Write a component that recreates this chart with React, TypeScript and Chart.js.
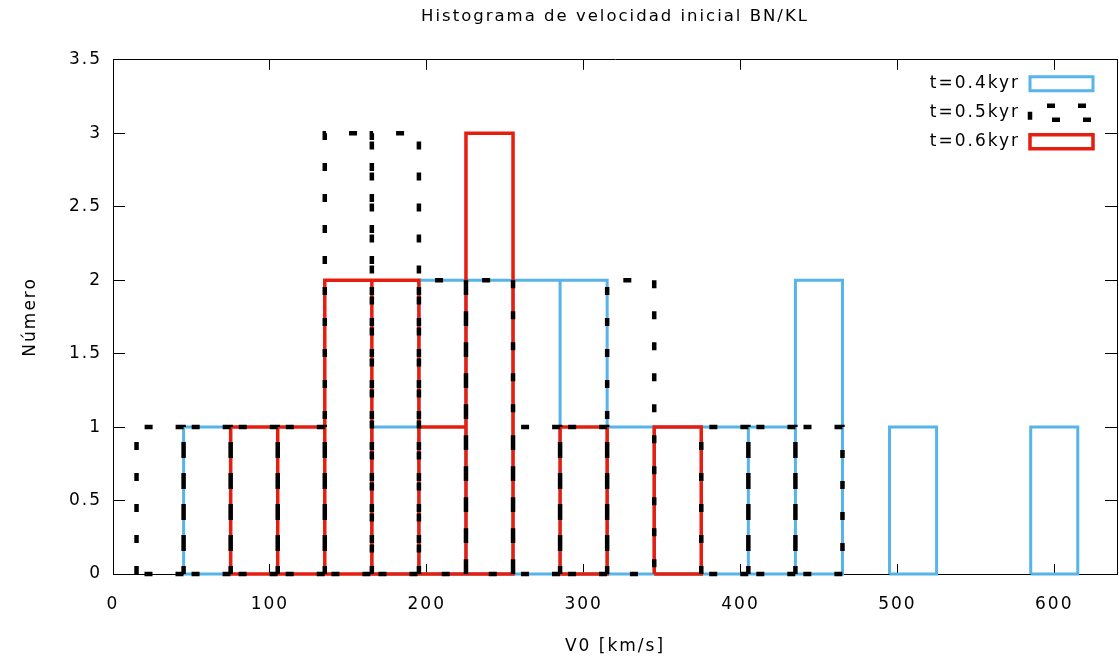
import { useEffect, useRef } from "react";
import { Chart, registerables } from "chart.js";

Chart.register(...registerables);

// Histogram bins (km/s): centres and common width
const binCenters = [30, 60, 90, 120, 150, 180, 210, 240, 270, 300, 330, 360, 390, 420, 450, 480, 510, 540, 570, 600];
const binWidth = 30;

// Counts per bin for each epoch
const countsT04 = [0, 1, 0, 0, 0, 1, 2, 2, 2, 2, 1, 1, 1, 1, 2, 0, 1, 0, 0, 1];
const countsT05 = [1, 1, 1, 1, 3, 3, 2, 2, 1, 1, 2, 0, 1, 1, 1, 0, 0, 0, 0, 0];
const countsT06 = [0, 0, 1, 1, 2, 2, 1, 3, 0, 1, 0, 1, 0, 0, 0, 0, 0, 0, 0, 0];

const seriesLabels = ["t=0.4kyr", "t=0.5kyr", "t=0.6kyr"];
const chartTitle = "Histograma de velocidad inicial BN/KL";
const xAxisTitle = "V0 [km/s]";
const yAxisTitle = "Número";

const xRange = [0, 640];
const yRange = [0, 3.5];
const xStep = 100;
const yStep = 0.5;

const FONT = '"DejaVu Sans", sans-serif';
const LETTER_SPACING = "2px";

// Each non-empty bin becomes a closed rectangle outline; a null point
// separates consecutive boxes so every box is its own sub-path.
function boxOutlines(centers: number[], counts: number[], width: number) {
  const pts: { x: number; y: number | null }[] = [];
  centers.forEach((c, i) => {
    const n = counts[i];
    if (!n) return;
    const x0 = c - width / 2;
    const x1 = c + width / 2;
    pts.push(
      { x: x0, y: 0 },
      { x: x0, y: n },
      { x: x1, y: n },
      { x: x1, y: 0 },
      { x: x0, y: 0 },
      { x: x0, y: null }
    );
  });
  return pts;
}

const textSpacing = {
  id: "textSpacing",
  beforeLayout(chart: any) {
    chart.ctx.letterSpacing = LETTER_SPACING;
  },
  beforeDraw(chart: any) {
    chart.ctx.letterSpacing = LETTER_SPACING;
  },
};

// Key drawn inside the plot, top-right: label then a sample box.
const boxLegend = {
  id: "boxLegend",
  afterDraw(chart: any) {
    const { ctx, chartArea } = chart;
    const sets = chart.data.datasets;
    const sampleRight = chartArea.right - 24;
    const sampleW = 63;
    const sampleH = 14;
    ctx.save();
    ctx.letterSpacing = LETTER_SPACING;
    ctx.font = `17px ${FONT}`;
    ctx.textAlign = "right";
    ctx.textBaseline = "middle";
    ctx.fillStyle = "#000";
    sets.forEach((d: any, i: number) => {
      const cy = chartArea.top + 24 + i * 29;
      ctx.fillText(d.label, sampleRight - sampleW - 10, cy);
      const x0 = sampleRight - sampleW;
      const yb = cy + sampleH / 2;
      ctx.beginPath();
      ctx.moveTo(x0, yb);
      ctx.lineTo(x0, yb - sampleH);
      ctx.lineTo(sampleRight, yb - sampleH);
      ctx.lineTo(sampleRight, yb);
      ctx.closePath();
      ctx.lineWidth = d.borderWidth;
      ctx.strokeStyle = d.borderColor;
      ctx.lineCap = "butt";
      ctx.setLineDash(d.borderDash || []);
      ctx.stroke();
    });
    ctx.restore();
  },
};

const axisFont = { family: FONT, size: 17, weight: "normal" as const };
const frame = { display: true, color: "#000", width: 1 };

export default function App() {
  const canvasRef = useRef<HTMLCanvasElement | null>(null);

  useEffect(() => {
    const canvas = canvasRef.current;
    if (!canvas) return;
    const chart = new Chart(canvas, {
      type: "line",
      data: {
        datasets: [
          {
            label: seriesLabels[0],
            data: boxOutlines(binCenters, countsT04, binWidth),
            borderColor: "#56b4e9",
            borderWidth: 3,
            order: 3,
          },
          {
            label: seriesLabels[1],
            data: boxOutlines(binCenters, countsT05, binWidth),
            borderColor: "#000000",
            borderWidth: 4.5,
            borderDash: [8, 23],
            order: 1,
          },
          {
            label: seriesLabels[2],
            data: boxOutlines(binCenters, countsT06, binWidth),
            borderColor: "#e51e10",
            borderWidth: 3.5,
            order: 2,
          },
        ] as any,
      },
      options: {
        animation: false,
        responsive: false,
        devicePixelRatio: 1,
        events: [],
        layout: { padding: { left: 0, right: 2, top: 0, bottom: 0 } },
        elements: {
          line: { tension: 0, fill: false, borderCapStyle: "butt", borderJoinStyle: "miter" },
          point: { radius: 0, hoverRadius: 0, hitRadius: 0 },
        },
        datasets: { line: { clip: false as any, spanGaps: false } },
        plugins: {
          legend: { display: false },
          tooltip: { enabled: false },
          title: {
            display: true,
            text: chartTitle,
            color: "#000",
            fullSize: false,
            font: { family: FONT, size: 16.5, weight: "normal", lineHeight: 1.2 },
            padding: { top: 7, bottom: 33 },
          },
        },
        scales: {
          x: {
            type: "linear",
            position: "bottom",
            min: xRange[0],
            max: xRange[1],
            ticks: {
              stepSize: xStep,
              includeBounds: false,
              autoSkip: false,
              maxRotation: 0,
              color: "#000",
              font: axisFont,
              padding: 30,
            },
            grid: { drawOnChartArea: false, tickLength: -10, color: "#000", tickColor: "#000" },
            border: frame,
            title: {
              display: true,
              text: xAxisTitle,
              color: "#000",
              font: axisFont,
              padding: { top: 0, bottom: 5 },
            },
            afterFit: (s: any) => {
              s.height = 88;
            },
          },
          x2: {
            type: "linear",
            position: "top",
            min: xRange[0],
            max: xRange[1],
            ticks: { display: false, stepSize: xStep, includeBounds: false },
            grid: { drawOnChartArea: false, tickLength: -10, color: "#000", tickColor: "#000" },
            border: frame,
            afterFit: (s: any) => {
              s.height = 0;
            },
          },
          y: {
            type: "linear",
            position: "left",
            min: yRange[0],
            max: yRange[1],
            ticks: {
              stepSize: yStep,
              color: "#000",
              font: axisFont,
              padding: 23,
              callback: (v: any) => String(v),
            },
            grid: { drawOnChartArea: false, tickLength: -12, color: "#000", tickColor: "#000" },
            border: frame,
            title: {
              display: true,
              text: yAxisTitle,
              color: "#000",
              font: axisFont,
              padding: { top: 20, bottom: 0 },
            },
            afterFit: (s: any) => {
              s.width = 113;
            },
          },
          y2: {
            type: "linear",
            position: "right",
            min: yRange[0],
            max: yRange[1],
            ticks: { display: false, stepSize: yStep },
            grid: { drawOnChartArea: false, tickLength: -12, color: "#000", tickColor: "#000" },
            border: frame,
            afterFit: (s: any) => {
              s.width = 0;
            },
          },
        },
      } as any,
      plugins: [textSpacing, boxLegend],
    });
    return () => chart.destroy();
  }, []);

  return (
    <div style={{ position: "absolute", left: 0, top: 0, width: 1119, height: 662, background: "#fff" }}>
      <canvas ref={canvasRef} width={1119} height={662} style={{ display: "block" }} />
    </div>
  );
}
